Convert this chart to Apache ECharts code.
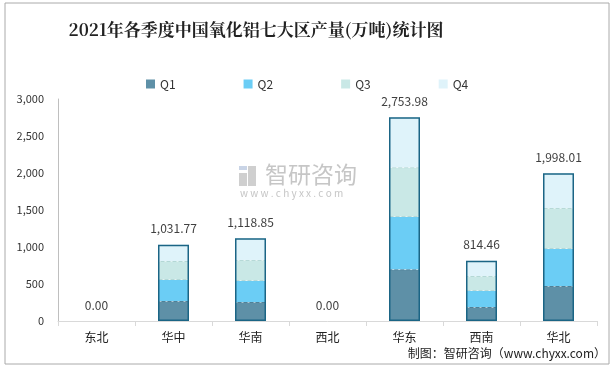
<!DOCTYPE html>
<html><head><meta charset="utf-8">
<script src="https://cdn.jsdelivr.net/npm/echarts@6/dist/echarts.min.js"></script>
<style>html,body{margin:0;padding:0;background:#fff}#c{width:615px;height:370px}</style>
</head><body><div id="c"></div>
<script>
var categories = ['东北','华中','华南','西北','华东','西南','华北'];
var q1 = [0, 270, 257, 0, 699, 189, 473];
var q2 = [0, 284, 284, 0, 707, 217, 500];
var q3 = [0, 257, 284, 0, 672, 202, 555];
var q4 = [0, 220.77, 293.85, 0, 675.98, 206.46, 470.01];
var totals = [0, 1031.77, 1118.85, 0, 2753.98, 814.46, 1998.01];
var yTicks = [0, 500, 1000, 1500, 2000, 2500, 3000];

var FONT = '"Noto Sans CJK SC", "Noto Sans", sans-serif';
var chart = echarts.init(document.getElementById('c'));
function seg(name, data, color, border) {
  return {
    name: name, type: 'bar', stack: 'total', barWidth: 31,
    data: data.map(function (v) {
      return { value: v, itemStyle: { borderWidth: (border && v > 0) ? 1 : 0 } };
    }),
    itemStyle: { color: color, borderColor: border || color, borderWidth: 0, borderType: 'dashed' },
    emphasis: { disabled: true }
  };
}
chart.setOption({
  animation: false,
  textStyle: { fontFamily: FONT },
  title: {
    text: '2021年各季度中国氧化铝七大区产量(万吨)统计图',
    left: 251, textAlign: 'center', top: 16,
    textStyle: { fontFamily: '"Noto Serif CJK SC", "DejaVu Serif", serif', fontSize: 17, fontWeight: 'bold', color: '#222' }
  },
  legend: {
    top: 73, left: 141, itemWidth: 9, itemHeight: 9, itemGap: 68, icon: 'rect',
    textStyle: { fontSize: 12, color: '#333', fontFamily: FONT },
    data: ['Q1','Q2','Q3','Q4']
  },
  grid: { left: 58, right: 18, top: 99, bottom: 49 },
  xAxis: {
    type: 'category', data: categories,
    axisLine: { lineStyle: { color: '#d9d9d9', width: 1 } },
    axisTick: { show: true, length: 5, lineStyle: { color: '#d9d9d9' } },
    axisLabel: { fontSize: 12, color: '#222', margin: 10, fontFamily: FONT }
  },
  yAxis: {
    type: 'value', min: 0, max: 3000, interval: 500,
    axisLine: { show: true, lineStyle: { color: '#bfbfbf' } },
    axisTick: { show: false },
    splitLine: { show: false },
    axisLabel: { fontSize: 11, color: '#333', margin: 14, fontFamily: FONT,
      formatter: function (v) { return v.toLocaleString('en-US'); } }
  },
  series: [
    seg('Q1', q1, '#5e90a7', '#4f7f96'),
    seg('Q2', q2, '#6bcdf5'),
    seg('Q3', q3, '#c9e8e6', '#b4d8d6'),
    seg('Q4', q4, '#dff3fa'),
    {
      name: '合计', type: 'bar', barGap: '-100%', barWidth: 31, z: 5,
      data: totals.map(function (v) {
        return { value: v, itemStyle: { borderWidth: v > 0 ? 1.5 : 0 } };
      }),
      itemStyle: { color: 'rgba(0,0,0,0)', borderColor: '#1b6585', borderWidth: 1.5 },
      label: { show: true, position: 'top', distance: 10, fontSize: 12, color: '#404040', fontFamily: FONT,
        formatter: function (p) { return p.value.toLocaleString('en-US', { minimumFractionDigits: 2, maximumFractionDigits: 2 }); } },
      emphasis: { disabled: true }
    }
  ],
  graphic: [
    { type: 'rect', shape: { x: 5, y: 3, width: 604, height: 361 }, style: { fill: 'none', stroke: '#aaaaaa', lineWidth: 1 }, silent: true },
    { type: 'rect', shape: { x: 239, y: 166, width: 8, height: 4 }, style: { fill: '#c9d4e6' }, silent: true },
    { type: 'rect', shape: { x: 248, y: 166, width: 8, height: 20 }, style: { fill: '#cfcfcf' }, silent: true },
    { type: 'rect', shape: { x: 239, y: 173, width: 8, height: 13 }, style: { fill: '#cfcfcf' }, silent: true },
    { type: 'text', left: 265, top: 163, style: { text: '智研咨询', fontSize: 23, fill: '#c6c6c6', fontFamily: FONT }, silent: true },
    { type: 'text', left: 240, top: 188, style: { text: 'w w w . c h y x x . c o m', fontSize: 10, fill: '#c6c6c6', fontFamily: FONT }, silent: true },
    { type: 'text', right: 9, top: 347, style: { text: '制图：智研咨询（www.chyxx.com）', fontSize: 12, fill: '#222', fontFamily: FONT }, silent: true }
  ]
});
</script></body></html>
